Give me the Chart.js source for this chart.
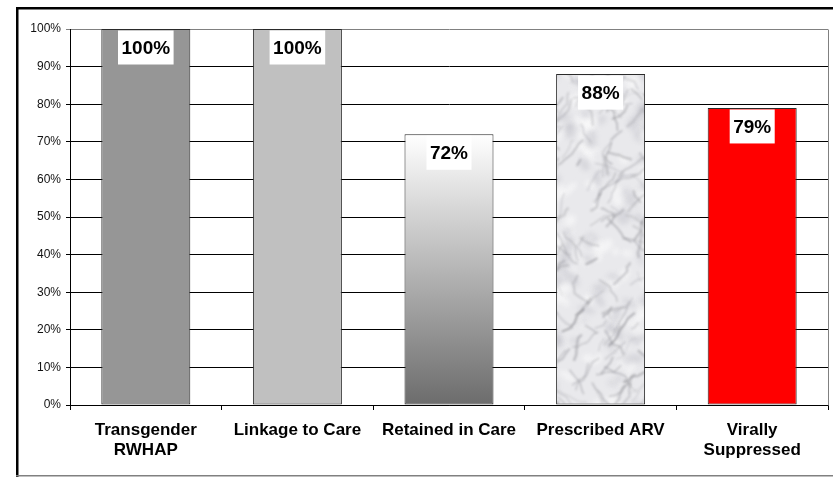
<!DOCTYPE html>
<html>
<head>
<meta charset="utf-8">
<script src="https://cdn.jsdelivr.net/npm/chart.js@4"></script>
<style>
  html, body { margin: 0; padding: 0; background: #fff; }
  canvas { display: block; }
</style>
</head>
<body>
<canvas id="cascade" width="833" height="477"></canvas>
<script>
// Care cascade stages and their percentages
const categories = [
  ["Transgender", "RWHAP"],
  "Linkage to Care",
  "Retained in Care",
  "Prescribed ARV",
  ["Virally", "Suppressed"]
];
const percentValues = [100, 100, 72, 88, 79];
const yTickValues = [0, 10, 20, 30, 40, 50, 60, 70, 80, 90, 100];

const FONT = "'Liberation Sans', Arial, Helvetica, sans-serif";

// Marble-like texture used as the fill of the "Prescribed ARV" bar
function makeMarble(w, h) {
  const c = document.createElement('canvas');
  c.width = w; c.height = h;
  const g = c.getContext('2d');
  g.fillStyle = '#e9e9ec';
  g.fillRect(0, 0, w, h);
  let s = 11;
  const rnd = () => { s = (s * 16807) % 2147483647; return (s - 1) / 2147483646; };
  // mottled cloudy base
  g.filter = 'blur(2.5px)';
  for (let i = 0; i < 1400; i++) {
    const light = rnd() < 0.55;
    g.fillStyle = light ? 'rgba(253,253,254,0.55)' : 'rgba(175,175,184,0.3)';
    g.beginPath();
    g.ellipse(rnd() * w, rnd() * h, 2 + rnd() * 9, 2 + rnd() * 6, rnd() * 3, 0, Math.PI * 2);
    g.fill();
  }
  // soft veins
  g.filter = 'blur(1.3px)';
  for (let i = 0; i < 1300; i++) {
    let x = rnd() * w, y = rnd() * h;
    const ang = (rnd() < 0.6 ? -0.8 : 0.8) + (rnd() - 0.5) * 0.9;
    const gray = 120 + (rnd() * 45 | 0);
    g.strokeStyle = 'rgba(' + gray + ',' + gray + ',' + (gray + 6) + ',' + (0.2 + rnd() * 0.35) + ')';
    g.lineWidth = 0.8 + rnd() * 1.8;
    g.beginPath();
    g.moveTo(x, y);
    const n = 2 + (rnd() * 5 | 0);
    for (let k = 0; k < n; k++) {
      const a = ang + (rnd() - 0.5) * 1.1;
      const len = 3 + rnd() * 6;
      x += Math.cos(a) * len; y += Math.sin(a) * len;
      g.lineTo(x, y);
    }
    g.stroke();
  }
  g.filter = 'none';
  return c;
}

const ctx = document.getElementById('cascade').getContext('2d');
const marble = ctx.createPattern(makeMarble(833, 477), 'repeat');

function barFill(context) {
  const i = context.dataIndex;
  if (i === 0) return '#969696';
  if (i === 1) return '#c0c0c0';
  if (i === 3) return marble;
  if (i === 4) return '#ff0000';
  const chart = context.chart;
  if (!chart.chartArea) return '#b0b0b0';
  const y = chart.scales.y;
  const grad = chart.ctx.createLinearGradient(0, y.getPixelForValue(percentValues[2]), 0, y.getPixelForValue(0));
  grad.addColorStop(0, '#ffffff');
  grad.addColorStop(1, '#6c6c6c');
  return grad;
}

// Outer frame and plot border
const framePlugin = {
  id: 'frame',
  beforeDraw(chart) {
    const c = chart.ctx;
    c.save();
    c.fillStyle = '#ffffff';
    c.fillRect(0, 0, chart.width, chart.height);
    c.fillStyle = '#000000';
    c.fillRect(16, 7, chart.width - 16, 2.5);
    c.fillRect(16, 7, 2.5, 470);
    c.fillStyle = '#808080';
    c.fillRect(16, 475, chart.width - 16, 1.5);
    c.restore();
  },
  afterDatasetsDraw(chart) {
    const c = chart.ctx, a = chart.chartArea;
    c.save();
    c.strokeStyle = '#808080';
    c.lineWidth = 1;
    c.beginPath();
    c.moveTo(a.right + 0.5, a.top + 0.5);
    c.lineTo(a.right + 0.5, a.bottom + 0.5);
    c.stroke();
    c.restore();
  }
};

// Percent labels in white boxes just under each bar top
const valueLabels = {
  id: 'valueLabels',
  afterDatasetsDraw(chart) {
    const c = chart.ctx;
    const meta = chart.getDatasetMeta(0);
    c.save();
    c.font = 'bold 19px ' + FONT;
    c.textAlign = 'center';
    c.textBaseline = 'middle';
    meta.data.forEach((bar, i) => {
      const text = percentValues[i] + '%';
      const tw = c.measureText(text).width;
      c.fillStyle = '#ffffff';
      c.fillRect(bar.x - tw / 2 - 3.5, bar.y + 1.5, tw + 7, 34);
      c.fillStyle = '#000000';
      c.fillText(text, bar.x, bar.y + 19.5);
    });
    c.restore();
  }
};

new Chart(ctx, {
  type: 'bar',
  data: {
    labels: categories,
    datasets: [{
      data: percentValues,
      backgroundColor: barFill,
      borderColor: '#2a2a2a',
      borderWidth: 1,
      borderSkipped: false,
      barPercentage: 0.587,
      categoryPercentage: 1.0
    }]
  },
  options: {
    responsive: false,
    animation: false,
    devicePixelRatio: 1,
    layout: { padding: { left: 0, top: 29, right: 5, bottom: 0 } },
    plugins: {
      legend: { display: false },
      tooltip: { enabled: false }
    },
    scales: {
      x: {
        afterFit(scale) { scale.height = 72; },
        grid: {
          display: true,
          drawOnChartArea: false,
          drawTicks: true,
          tickLength: 5,
          color: '#000000',
          offset: true
        },
        border: { display: true, color: '#000000', width: 1 },
        ticks: {
          color: '#000000',
          padding: 10,
          maxRotation: 0,
          autoSkip: false,
          font: { family: FONT, size: 17, weight: 'bold', lineHeight: 1.2 }
        }
      },
      y: {
        min: 0,
        max: 100,
        afterFit(scale) { scale.width = 70; },
        afterBuildTicks(scale) { scale.ticks = yTickValues.map(v => ({ value: v })); },
        grid: {
          color(context) { return context.tick && context.tick.value === 100 ? '#808080' : '#000000'; },
          lineWidth: 1,
          tickLength: 4,
          drawTicks: true
        },
        border: { display: true, color: '#000000', width: 1 },
        ticks: {
          color: '#111111',
          padding: 5,
          font: { family: FONT, size: 12 },
          callback: v => v + '%'
        }
      }
    }
  },
  plugins: [framePlugin, valueLabels]
});
</script>
</body>
</html>
